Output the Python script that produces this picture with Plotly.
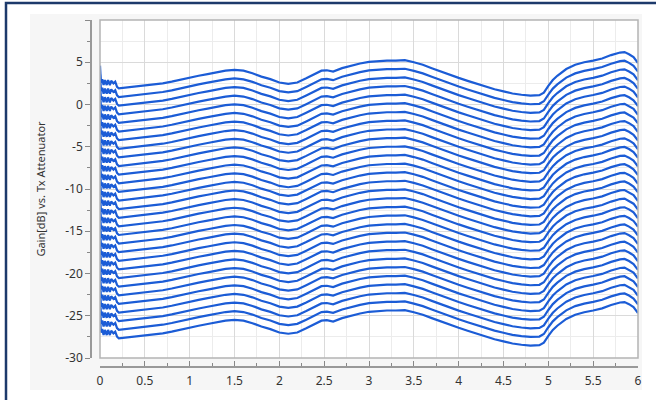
import plotly.graph_objects as go

# Base (top) curve: frequency [GHz] vs gain [dB]
base_x = [0.0, 0.01, 0.025, 0.04, 0.055, 0.075, 0.09, 0.11, 0.125, 0.15, 0.17, 0.19, 0.21,
          0.3, 0.4, 0.5, 0.6, 0.7, 0.8, 0.9, 1.0, 1.1, 1.2, 1.3, 1.4, 1.5, 1.6, 1.7, 1.8, 1.9,
          2.0, 2.1, 2.2, 2.3, 2.4, 2.47, 2.53, 2.6, 2.7, 2.8, 2.9, 3.0, 3.1, 3.2, 3.3, 3.4,
          3.5, 3.6, 3.7, 3.8, 3.9, 4.0, 4.1, 4.2, 4.3, 4.4, 4.5, 4.6, 4.7, 4.8, 4.9, 4.95,
          5.0, 5.05, 5.1, 5.2, 5.3, 5.4, 5.5, 5.6, 5.7, 5.8, 5.85, 5.9, 5.95, 6.0]
base_y = [4.6, 2.6, 3.0, 2.3, 2.9, 2.3, 2.9, 2.3, 2.8, 2.5, 2.7, 2.1, 1.9,
          2.0, 2.15, 2.3, 2.4, 2.5, 2.7, 2.95, 3.2, 3.4, 3.6, 3.8, 4.0, 4.1, 4.0, 3.7, 3.3, 3.0,
          2.6, 2.45, 2.6, 3.1, 3.6, 4.0, 4.05, 3.9, 4.3, 4.6, 4.85, 5.05, 5.15, 5.2, 5.2, 5.25,
          5.0, 4.7, 4.3, 3.9, 3.5, 3.15, 2.8, 2.45, 2.1, 1.8, 1.55, 1.3, 1.15, 1.05, 1.1, 1.4,
          2.2, 2.9, 3.4, 4.2, 4.7, 5.0, 5.2, 5.45, 5.85, 6.15, 6.2, 5.95, 5.6, 4.9]

# Tx attenuator steps (dB offset of each curve relative to the top curve)
atten_offsets = [0, -1.02, -2.04, -3.06, -4.08, -5.1, -6.12, -7.14, -8.16, -9.18,
                 -10.2, -11.22, -12.24, -13.26, -14.28, -15.3, -16.32, -17.34, -18.36,
                 -19.38, -20.4, -21.42, -22.44, -23.46, -24.48, -25.5, -26.52, -27.54,
                 -28.56, -29.58]

y_tickvals = [-30, -25, -20, -15, -10, -5, 0, 5, 10]
y_ticktext = ["-30", "-25", "-20", "-15", "-10", "-5", "0", "5", ""]
x_tickvals = [0, 0.5, 1, 1.5, 2, 2.5, 3, 3.5, 4, 4.5, 5, 5.5, 6]
x_ticktext = ["0", "0.5", "1", "1.5", "2", "2.5", "3", "3.5", "4", "4.5", "5", "5.5", "6"]

W, H = 656, 400
L, R, T, B = 91, 18, 20, 33
pw, ph = W - L - R, H - T - B

def px(xp):
    return (xp - L) / pw

def py(yp):
    return (H - B - yp) / ph

fig = go.Figure()
line_color = "#1b5cd6"
for off in atten_offsets:
    fig.add_trace(go.Scatter(
        x=base_x, y=[v + off for v in base_y], mode="lines",
        line=dict(color=line_color, width=2.2), showlegend=False, hoverinfo="skip"))

fig.update_layout(
    width=W, height=H,
    margin=dict(l=L, r=R, t=T, b=B, autoexpand=False),
    paper_bgcolor="white", plot_bgcolor="white",
    font=dict(family="Noto Sans", size=12, color="#333333"),
    xaxis=dict(
        domain=[px(100), 1], anchor="free", position=0, automargin=False,
        range=[0, 6], tickvals=x_tickvals, ticktext=x_ticktext,
        ticks="inside", ticklen=5, tickcolor="#888888",
        showline=True, linecolor="#999999", linewidth=1.5,
        showgrid=True, gridcolor="#dadada", gridwidth=1, zeroline=False,
        minor=dict(dtick=0.25, ticks="inside", ticklen=3, tickcolor="#888888",
                   showgrid=True, gridcolor="#ececec", gridwidth=1),
        ticklabelstandoff=3,
    ),
    yaxis=dict(
        domain=[py(358), 1], anchor="free", position=0, automargin=False,
        range=[-30, 10], tickvals=y_tickvals, ticktext=y_ticktext,
        ticks="outside", ticklen=5, tickcolor="#888888",
        showline=True, linecolor="#999999", linewidth=1.5,
        showgrid=True, gridcolor="#dadada", gridwidth=1, zeroline=False,
        minor=dict(dtick=2.5, ticks="outside", ticklen=3, tickcolor="#888888",
                   showgrid=True, gridcolor="#ececec", gridwidth=1),
        title=dict(text="Gain[dB] vs. Tx Attenuator", font=dict(size=11, color="#333333"),
                   standoff=16),
    ),
    shapes=[
        # light grey panel
        dict(type="rect", xref="paper", yref="paper", layer="below",
             x0=px(30), x1=px(642), y0=py(390), y1=py(14),
             fillcolor="#f6f6f6", line=dict(width=0)),
        # white plot area
        dict(type="rect", xref="paper", yref="paper", layer="below",
             x0=px(100), x1=px(638), y0=py(358), y1=py(20),
             fillcolor="white", line=dict(width=0)),
        # plot area border
        dict(type="rect", xref="x domain", yref="y domain", layer="above",
             x0=0, x1=1, y0=0, y1=1, line=dict(color="#b4b4b4", width=1.5)),
        # outer frame (top and left edges visible)
        dict(type="rect", xref="paper", yref="paper", layer="above",
             x0=px(6), x1=px(680), y0=py(420), y1=py(3),
             line=dict(color="#1d3a6b", width=2.5)),
    ],
)

fig.write_html("out.html", config={"displayModeBar": False},
               post_script="document.body.style.margin='0';document.body.style.overflow='hidden';")
